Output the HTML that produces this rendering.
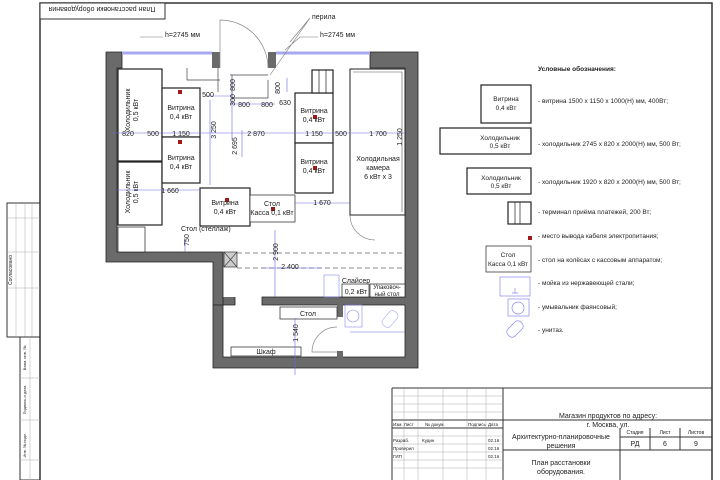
<!DOCTYPE html>
<html><head><meta charset="utf-8"><style>
body{margin:0;background:#fff}
svg{display:block}
text{font-family:"Liberation Sans",sans-serif;fill:#222}
.b{fill:#3a3acc;font-size:7px}
</style></head><body>
<svg width="720" height="480" viewBox="0 0 720 480" xmlns="http://www.w3.org/2000/svg">
<rect width="720" height="480" fill="#fff"/>
<path d="M40 480V3H712V480" fill="none" stroke="#333" stroke-width="1.5"/>
<rect x="40" y="3" width="125" height="16" fill="#fff" stroke="#333"/>
<text x="102" y="11" font-size="7" text-anchor="middle" transform="rotate(180 102 9)">План расстановки оборудования</text>
<rect x="7" y="203" width="33" height="134" fill="none" stroke="#333"/>
<path d="M16 203V337M25 203V337M32 203V337M7 218H40M7 252H40M7 288H40" stroke="#aaa" stroke-width="0.5"/>
<text x="12" y="270" font-size="5" transform="rotate(-90 12 270)" text-anchor="middle">Согласовано</text>
<rect x="20" y="337" width="20" height="143" fill="none" stroke="#333"/>
<path d="M30 337V480M20 378H40M20 420H40M20 460H40" stroke="#aaa" stroke-width="0.5"/>
<text x="26" y="358" font-size="4" transform="rotate(-90 26 358)" text-anchor="middle">Взам. инв. №</text>
<text x="26" y="400" font-size="4" transform="rotate(-90 26 400)" text-anchor="middle">Подпись и дата</text>
<text x="26" y="445" font-size="4" transform="rotate(-90 26 445)" text-anchor="middle">Инв. № подл.</text>
<g fill="#6a6a6a" stroke="none">
<rect x="106" y="52" width="16" height="16"/>
<rect x="106" y="52" width="11" height="210"/>
<rect x="106" y="252" width="117" height="10"/>
<rect x="213" y="252" width="10" height="116"/>
<rect x="213" y="357" width="205" height="11"/>
<rect x="405" y="52" width="13" height="316"/>
<rect x="370" y="52" width="48" height="16"/>
<rect x="262" y="297" width="156" height="8"/>
<rect x="213" y="297" width="22" height="8"/>
<rect x="337" y="305" width="6" height="12"/>
<rect x="337" y="351" width="6" height="8"/>
<rect x="212" y="52" width="8" height="16"/>
<rect x="268" y="52" width="8" height="16"/>
</g>
<g fill="none" stroke="#222" stroke-width="0.8">
<path d="M106 52H122V68H117V252H223V357H337M343 357H405V305H343M337 305H262V297H405V68H370V52H418V368H213V262H106V52"/>
<path d="M235 297V305H213"/>
</g>
<line x1="122" y1="53" x2="212" y2="53" stroke="#a8a8ee" stroke-width="3"/>
<line x1="276" y1="53" x2="370" y2="53" stroke="#a8a8ee" stroke-width="3"/>
<rect x="224" y="252" width="13" height="15" fill="#ccc" stroke="#333" stroke-width="0.7"/>
<path d="M224 252L237 267M237 252L224 267" stroke="#333" stroke-width="0.6"/>
<path d="M237 253H405M237 268H405" stroke="#666" stroke-dasharray="5,3" stroke-width="0.8"/>
<path d="M220 68V20A48 48 0 0 1 268 68" fill="none" stroke="#888" stroke-width="0.7"/>
<path d="M187 68V80H220M230 75H268M218 68V92M232 75V98H268V80" fill="none" stroke="#444" stroke-width="0.7"/>
<path d="M337 352H312A25 25 0 0 1 337 327" fill="none" stroke="#888" stroke-width="0.7"/>
<path d="M350 215A25 25 0 0 0 375 240" fill="none" stroke="#888" stroke-width="0.7"/>
<g fill="#fff" stroke="#222" stroke-width="1.2">
<rect x="118" y="69" width="44" height="92"/>
<rect x="118" y="162" width="44" height="63"/>
<rect x="118" y="227" width="27" height="25" stroke-width="0.7"/>
<rect x="162" y="88" width="38" height="49"/>
<rect x="162" y="137" width="38" height="46"/>
<rect x="200" y="188" width="50" height="38"/>
<rect x="250" y="195" width="45" height="27" stroke-width="0.7"/>
<rect x="295" y="93" width="38" height="50"/>
<rect x="295" y="143" width="38" height="50"/>
<rect x="312" y="70" width="21" height="23"/>
<rect x="350" y="69" width="55" height="146" stroke-width="1"/>
<rect x="342" y="284" width="27" height="13" stroke-width="0.7"/>
<rect x="370" y="284" width="35" height="13" stroke-width="0.7"/>
<rect x="280" y="307" width="57" height="12" stroke-width="0.7"/>
<rect x="231" y="347" width="70" height="9" stroke-width="0.7"/>
</g>
<path d="M319 70V93M326 70V93" stroke="#222" stroke-width="0.7"/>
<path d="M353 72H402V212" fill="none" stroke="#555" stroke-width="0.6"/>
<g fill="#a01818">
<rect x="178" y="90" width="4" height="4"/><rect x="178" y="140" width="4" height="4"/>
<rect x="313" y="115" width="4" height="4"/><rect x="313" y="166" width="4" height="4"/>
<rect x="225" y="198" width="4" height="4"/><rect x="271" y="207" width="4" height="4"/>
</g>
<g font-size="7" text-anchor="middle">
<text x="130" y="110" transform="rotate(-90 130 110)">Холодильник</text>
<text x="138" y="110" transform="rotate(-90 138 110)">0,5 кВт</text>
<text x="130" y="192" transform="rotate(-90 130 192)">Холодильник</text>
<text x="138" y="192" transform="rotate(-90 138 192)">0,5 кВт</text>
<text x="181" y="110">Витрина</text><text x="181" y="119">0,4 кВт</text>
<text x="181" y="160">Витрина</text><text x="181" y="169">0,4 кВт</text>
<text x="225" y="205">Витрина</text><text x="225" y="214">0,4 кВт</text>
<text x="272" y="206">Стол</text><text x="272" y="215">Касса 0,1 кВт</text>
<text x="314" y="113">Витрина</text><text x="314" y="122">0,4 кВт</text>
<text x="314" y="164">Витрина</text><text x="314" y="173">0,4 кВт</text>
<text x="378" y="161">Холодильная</text><text x="378" y="170">камера</text><text x="378" y="179">6 кВт х 3</text>
<text x="356" y="283">Слайсер</text><text x="356" y="294">0,2 кВт</text>
<text x="387" y="289" font-size="6">Упаковоч-</text><text x="387" y="296" font-size="6">ный стол</text>
<text x="308" y="316">Стол</text>
<text x="266" y="354">Шкаф</text>
<text x="181" y="231" text-anchor="start">Стол (стеллаж)</text>
<text x="165" y="37" text-anchor="start">h=2745 мм</text>
<text x="320" y="37" text-anchor="start">h=2745 мм</text>
<text x="312" y="19" text-anchor="start">перила</text>
</g>
<path d="M140 37H163M300 37H318M300 37L285 50M310 18L290 42M310 18L270 75" fill="none" stroke="#777" stroke-width="0.6"/>
<g stroke="#6a6ae0" stroke-width="0.6" fill="none">
<path d="M112 133H405M205 96H232M230 104H275M117 190H200M295 203H350M185 240V252M275 230V297M242 157V130M210 100V185M232 78V140M287 78V92M262 268H322M295 318V375M350 332H405"/>
<rect x="324" y="275" width="15" height="22" stroke="#88e"/>
<rect x="345" y="305" width="17" height="22" stroke="#88e"/>
<circle cx="353" cy="316" r="6" stroke="#88e"/>
<rect x="385" y="310" width="10" height="18" rx="4" transform="rotate(40 390 319)" stroke="#aaf"/>
</g>
<g class="b" text-anchor="middle">
<text x="128" y="136">820</text><text x="153" y="136">500</text><text x="181" y="136">1 150</text>
<text x="256" y="136">2 870</text><text x="314" y="136">1 150</text><text x="341" y="136">500</text><text x="378" y="136">1 700</text>
<text x="208" y="97">500</text><text x="244" y="107">800</text><text x="267" y="107">800</text><text x="285" y="105">630</text>
<text x="170" y="193">1 660</text><text x="322" y="205">1 670</text><text x="290" y="269">2 400</text>
<text x="216" y="130" transform="rotate(-90 216 130)">3 250</text>
<text x="237" y="146" transform="rotate(-90 237 146)">2 695</text>
<text x="235" y="85" transform="rotate(-90 235 85)">800</text>
<text x="235" y="100" transform="rotate(-90 235 100)">300</text>
<text x="280" y="88" transform="rotate(-90 280 88)">800</text>
<text x="189" y="240" transform="rotate(-90 189 240)">750</text>
<text x="278" y="252" transform="rotate(-90 278 252)">2 900</text>
<text x="298" y="333" transform="rotate(-90 298 333)">1 540</text>
<text x="402" y="137" transform="rotate(-90 402 137)">1 250</text>
</g>
<g font-size="6.5">
<text x="538" y="71" font-weight="bold">Условные обозначения:</text>
<text x="538" y="103">- витрина 1500 х 1150 х 1000(Н) мм, 400Вт;</text>
<text x="538" y="146">- холодильник 2745 х 820 х 2000(Н) мм, 500 Вт;</text>
<text x="538" y="184">- холодильник 1920 х 820 х 2000(Н) мм, 500 Вт;</text>
<text x="538" y="214">- терминал приёма платежей, 200 Вт;</text>
<text x="538" y="238">- место вывода кабеля электропитания;</text>
<text x="538" y="262">- стол на колёсах с кассовым аппаратом;</text>
<text x="538" y="285">- мойка из нержавеющей стали;</text>
<text x="538" y="309">- умывальник фаянсовый;</text>
<text x="538" y="332">- унитаз.</text>
</g>
<g fill="#fff" stroke="#222" stroke-width="1.2">
<rect x="481" y="85" width="50" height="38"/>
<rect x="440" y="128" width="91" height="26"/>
<rect x="467" y="168" width="64" height="26"/>
<rect x="508" y="202" width="23" height="22"/>
<rect x="486" y="246" width="45" height="26" stroke-width="0.7"/>
</g>
<path d="M515 202V224M520 202V224" stroke="#222" stroke-width="0.7"/>
<rect x="528" y="236" width="4" height="4" fill="#a01818"/>
<g fill="none" stroke="#88e" stroke-width="0.7">
<rect x="500" y="277" width="30" height="19"/><path d="M515 288V293M512 293H518"/>
<rect x="508" y="299" width="21" height="17"/><circle cx="518" cy="308" r="6"/>
<rect x="510" y="320" width="10" height="18" rx="4" transform="rotate(45 515 329)"/>
</g>
<g font-size="6.5" text-anchor="middle">
<text x="506" y="101">Витрина</text><text x="506" y="110">0,4 кВт</text>
<text x="500" y="140">Холодильник</text><text x="500" y="148">0,5 кВт</text>
<text x="501" y="180">Холодильник</text><text x="501" y="188">0,5 кВт</text>
<text x="508" y="257">Стол</text><text x="508" y="266">Касса 0,1 кВт</text>
</g>
<g fill="none" stroke="#333" stroke-width="1">
<path d="M392 388H712M392 388V480M503 388V480M392 420H712M392 428H503M503 450H712M620 428V480M620 437H712M620 450H712M650 428V450M680 428V450"/>
</g>
<g stroke="#999" stroke-width="0.4">
<path d="M392 396H503M392 404H503M392 412H503M392 436H503M392 444H503M392 452H503M392 460H503M392 468H503M404 388V480M418 388V480M443 388V480M467 388V480M486 388V480"/>
</g>
<g font-size="4.5">
<text x="393" y="426">Изм. Лист</text><text x="425" y="426">№ докум.</text><text x="468" y="426">Подпись</text><text x="488" y="426">Дата</text>
<text x="393" y="442">Разраб.</text><text x="422" y="442">Кудин</text><text x="488" y="442">02.16</text>
<text x="393" y="450">Проверил</text><text x="488" y="450">02.16</text>
<text x="393" y="458">ГИП</text><text x="488" y="458">02.16</text>
</g>
<g font-size="7" text-anchor="middle">
<text x="608" y="418">Магазин продуктов по адресу:</text>
<text x="608" y="427">г. Москва, ул.</text>
<text x="561" y="439">Архитектурно-планировочные</text>
<text x="561" y="448">решения</text>
<text x="561" y="465">План расстановки</text>
<text x="561" y="474">оборудования.</text>
<text x="635" y="446">РД</text><text x="665" y="446">6</text><text x="696" y="446">9</text>
<text x="635" y="434" font-size="5">Стадия</text><text x="665" y="434" font-size="5">Лист</text><text x="696" y="434" font-size="5">Листов</text>
</g>
</svg>
</body></html>
